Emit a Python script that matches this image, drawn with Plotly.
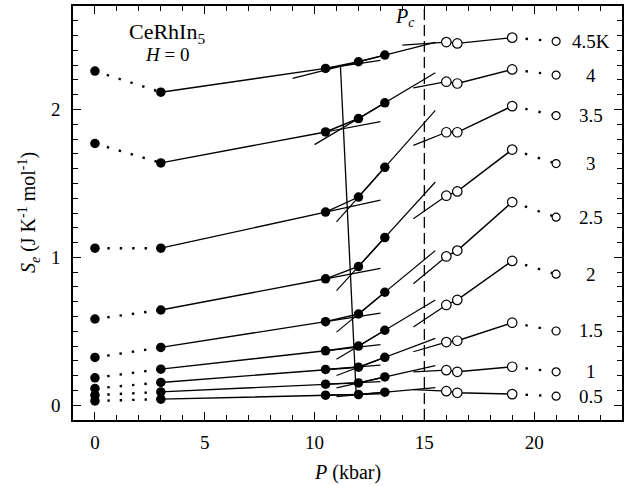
import plotly.graph_objects as go

# ---------------- data ----------------
temps = ["4.5K", "4", "3.5", "3", "2.5", "2", "1.5", "1", "0.5"]

P_filled = [0, 3, 10.5, 12, 13.2]
P_open = [16, 16.5, 19, 21]

S_filled = [
    [2.260, 2.117, 2.278, 2.323, 2.368],
    [1.770, 1.639, 1.848, 1.939, 2.045],
    [1.062, 1.062, 1.306, 1.408, 1.609],
    [0.583, 0.644, 0.855, 0.938, 1.134],
    [0.323, 0.391, 0.565, 0.617, 0.764],
    [0.185, 0.244, 0.368, 0.400, 0.507],
    [0.113, 0.154, 0.242, 0.257, 0.324],
    [0.068, 0.090, 0.142, 0.151, 0.191],
    [0.029, 0.041, 0.068, 0.072, 0.088],
]

S_open = [
    [2.456, 2.447, 2.486, 2.461],
    [2.188, 2.176, 2.271, 2.233],
    [1.846, 1.846, 2.023, 1.959],
    [1.417, 1.446, 1.729, 1.634],
    [1.006, 1.046, 1.374, 1.272],
    [0.678, 0.712, 0.976, 0.886],
    [0.427, 0.436, 0.558, 0.502],
    [0.237, 0.226, 0.260, 0.226],
    [0.095, 0.084, 0.075, 0.061],
]

# extents (kbar) of the straight-line fits drawn through each isotherm
low_fit_end = [13.0] * 9
high_fit_start = [9.0, 10.0, 11.0, 11.0, 11.0, 11.0, 11.0, 11.0, 11.0]
high_fit_end = [15.5] * 9
open_fit_start = [14.0, 14.5, 14.5, 14.5, 14.5, 14.5, 14.5, 14.5, 14.5]

# line joining the kinks of the isotherms
kink_P = [11.18, 11.9]
kink_S = [2.289, 0.06]

Pc = 15.0

x_ticks = [0, 5, 10, 15, 20]
y_ticks = [0, 1, 2]

FONT = "Liberation Serif, Times New Roman, serif"
BLACK = "black"

fig = go.Figure()


def line(xs, ys, width=1.4, dash="solid"):
    fig.add_trace(go.Scatter(x=xs, y=ys, mode="lines",
                             line=dict(color=BLACK, width=width, dash=dash),
                             hoverinfo="skip", showlegend=False))


def lin(p1, s1, p2, s2, p):
    return s1 + (s2 - s1) * (p - p1) / (p2 - p1)


for i in range(len(temps)):
    sf = S_filled[i]
    so = S_open[i]
    # dotted 0 -> 3
    line(P_filled[0:2], sf[0:2], width=2.4, dash="2.4px,10px")
    # solid 3 -> 10.5 -> 12 -> 13.2
    line(P_filled[1:], sf[1:], width=1.4)
    # low-pressure fit extension
    line([P_filled[2], low_fit_end[i]],
         [sf[2], lin(P_filled[1], sf[1], P_filled[2], sf[2], low_fit_end[i])], width=1.2)
    # high-pressure fit
    line([high_fit_start[i], high_fit_end[i]],
         [lin(P_filled[3], sf[3], P_filled[4], sf[4], high_fit_start[i]),
          lin(P_filled[3], sf[3], P_filled[4], sf[4], high_fit_end[i])], width=1.2)
    # open points solid 16 -> 16.5 -> 19
    line(P_open[0:3], so[0:3], width=1.4)
    # open fit extension back toward Pc
    line([open_fit_start[i], P_open[0]],
         [lin(P_open[0], so[0], P_open[2], so[2], open_fit_start[i]), so[0]], width=1.2)
    # dotted 19 -> 21
    line(P_open[2:4], so[2:4], width=2.4, dash="2.4px,11px")

# kink line
line(kink_P, kink_S, width=1.3)

# Pc dashed line
fig.add_shape(type="line", xref="x", yref="paper", x0=Pc, x1=Pc, y0=0, y1=1,
              line=dict(color=BLACK, width=1.3, dash="11px,5px"))

# markers
for i in range(len(temps)):
    fig.add_trace(go.Scatter(x=P_filled, y=S_filled[i], mode="markers",
                             marker=dict(size=9.5, color=BLACK, line=dict(width=0)),
                             hoverinfo="skip", showlegend=False))
    fig.add_trace(go.Scatter(x=P_open[:3], y=S_open[i][:3], mode="markers",
                             marker=dict(size=9.5, color="white", line=dict(color=BLACK, width=1.2)),
                             hoverinfo="skip", showlegend=False))
    fig.add_trace(go.Scatter(x=P_open[3:], y=S_open[i][3:], mode="markers",
                             marker=dict(size=8, color="white", line=dict(color=BLACK, width=1.2)),
                             hoverinfo="skip", showlegend=False))

# temperature labels
for i, t in enumerate(temps):
    fig.add_annotation(x=22.6, y=S_open[i][3], text=t, showarrow=False,
                       font=dict(family=FONT, size=19, color=BLACK),
                       xanchor="center", yanchor="middle")

fig.add_annotation(x=3.3, y=2.52, text="CeRhIn<sub>5</sub>", showarrow=False,
                   font=dict(family=FONT, size=22, color=BLACK))
fig.add_annotation(x=3.3, y=2.37, text="<i>H</i> = 0", showarrow=False,
                   font=dict(family=FONT, size=19, color=BLACK))
fig.add_annotation(x=14.1, y=2.62, text="<i>P<sub>c</sub></i>", showarrow=False,
                   font=dict(family=FONT, size=20, color=BLACK))

# axis titles
fig.add_annotation(xref="paper", yref="paper", x=0.5, y=-0.093, yanchor="top",
                   text="<i>P</i> (kbar)", showarrow=False,
                   font=dict(family=FONT, size=20, color=BLACK))
fig.add_annotation(xref="paper", yref="paper", x=-0.080, y=0.5,
                   xanchor="center", yanchor="middle",
                   text="<i>S<sub>e</sub></i> (J K<sup>-1</sup> mol<sup>-1</sup>)",
                   textangle=-90, showarrow=False,
                   font=dict(family=FONT, size=20, color=BLACK))

axis_common = dict(showline=True, linecolor=BLACK, linewidth=1.5, mirror="allticks",
                   ticks="inside", ticklen=8, tickwidth=1.2, tickcolor=BLACK,
                   showgrid=False, zeroline=False, automargin=False,
                   tickfont=dict(family=FONT, size=19, color=BLACK))

fig.update_layout(
    width=635, height=486,
    margin=dict(l=73, r=13, t=6, b=66),
    paper_bgcolor="white", plot_bgcolor="white",
    showlegend=False,
    hovermode=False,
    xaxis=dict(range=[-1, 24], tickvals=x_ticks, ticklabelstandoff=4,
               minor=dict(dtick=1, tick0=0, ticklen=5, ticks="inside", tickcolor=BLACK, tickwidth=1),
               **axis_common),
    yaxis=dict(range=[-0.1, 2.7], tickvals=y_ticks, ticklabelstandoff=7,
               minor=dict(dtick=0.1, tick0=0, ticklen=5, ticks="inside", tickcolor=BLACK, tickwidth=1),
               **axis_common),
)

fig.write_html("out.html", config={"displayModeBar": False},
               post_script="document.body.style.margin='0';")
